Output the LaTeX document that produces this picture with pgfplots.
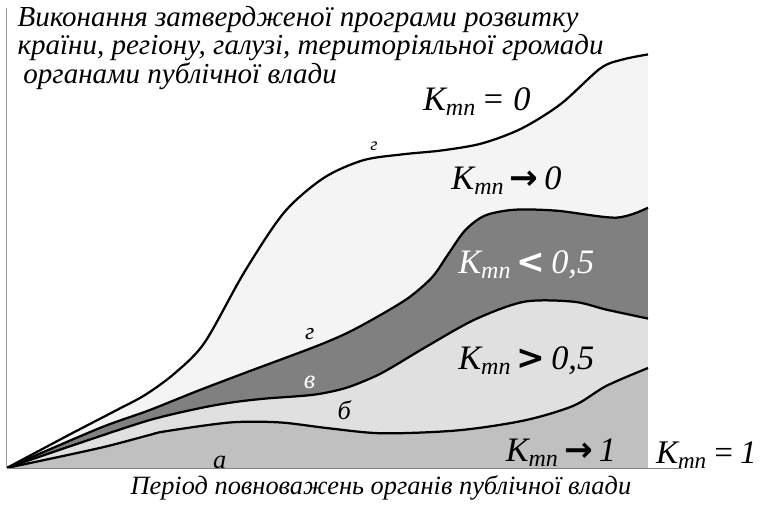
\documentclass[border=0pt]{standalone}
\usepackage{pgfplots}
\pgfplotsset{compat=1.18}
\usepackage{fontspec}
\setmainfont{Liberation Serif}
\newfontfamily\hand{Liberation Serif}
\newfontfamily\sym{DejaVu Sans}

\definecolor{topfill}{HTML}{F4F4F4}
\definecolor{darkfill}{HTML}{808080}
\definecolor{midfill}{HTML}{E0E0E0}
\definecolor{lowfill}{HTML}{C0C0C0}

\newcommand{\K}{К\textsubscript{тп}}
\newcommand{\bs}[1]{{\sym\bfseries\upshape #1}}

% boundary curves (x, y measured from the origin of the chart)
\def\curveG{(0,0)(60,32)(110,58)(140,74)(170,96)(200,127)(240,198)(280,258)(320,293)(360,311)(400,317)
  (440,321)(480,328)(520,343)(560,368)(600,404)(623,413)(648,418)}
\def\curveGl{(0,0)(93,40)(143,58)(193,78)(243,97)(310,122)(343,136)(373,152)(406,172)(430,193)
  (446,216)(463,240)(483,255)(513,261)(556,260)(616,253)(648,263)}
\def\curveV{(0,0)(70,24)(143,48)(193,60)(226,66)(260,70)(310,74)(343,81)(373,93)(393,104)
  (423,122)(473,150)(523,168)(573,168)(606,160)(648,151)}
\def\curveB{(0,0)(93,20)(143,33)(160,37)(226,46)(276,46)(326,40)(380,35)(456,38)(523,48)
  (573,63)(606,83)(648,101)}

\begin{document}
\begin{tikzpicture}
\begin{axis}[scale only axis, width=570.75pt, height=384pt,
  xmin=-7, xmax=754, ymin=-39, ymax=473,
  hide axis, clip=false,
  every node/.style={font=\hand\itshape}]

% regions, top to bottom
\addplot[fill=topfill, draw=none, smooth] coordinates {\curveG} \closedcycle;
\addplot[fill=darkfill, draw=none, smooth] coordinates {\curveGl} \closedcycle;
\addplot[fill=midfill, draw=none, smooth] coordinates {\curveV} \closedcycle;
\addplot[fill=lowfill, draw=none, smooth] coordinates {\curveB} \closedcycle;

% boundary lines
\addplot[black, line width=1.7pt, smooth] coordinates {\curveG};
\addplot[black, line width=1.7pt, smooth] coordinates {\curveGl};
\addplot[black, line width=1.7pt, smooth] coordinates {\curveV};
\addplot[black, line width=1.7pt, smooth] coordinates {\curveB};

% axes
\addplot[gray!80, line width=0.8pt] coordinates {(0,0)(0,465)};
\addplot[gray, line width=0.8pt] coordinates {(0,-1)(682,-1)};
\addplot[draw=none] coordinates {(-7,-39)(754,473)};

% title
\node[anchor=west, font=\hand\itshape\fontsize{22}{22}\selectfont] at (axis cs:6,453) {Виконання затвердженої програми розвитку};
\node[anchor=west, font=\hand\itshape\fontsize{22}{22}\selectfont] at (axis cs:6,425) {країни, регіону, галузі, територіяльної громади};
\node[anchor=west, font=\hand\itshape\fontsize{22}{22}\selectfont] at (axis cs:12,396) {органами публічної влади};

% region labels
\node[font=\hand\itshape\fontsize{26}{26}\selectfont] at (axis cs:475,370) {\K\,= 0};
\node[font=\hand\itshape\fontsize{26}{26}\selectfont] at (axis cs:505,290) {\K\,\bs{→}\,0};
\node[white, font=\hand\itshape\fontsize{26}{26}\selectfont] at (axis cs:525,205) {\K\,\bs{<}\,0,5};
\node[font=\hand\itshape\fontsize{26}{26}\selectfont] at (axis cs:525,108) {\K\,\bs{>}\,0,5};
\node[font=\hand\itshape\fontsize{26}{26}\selectfont] at (axis cs:560,15) {\K\,\bs{→}\,1};
\node[font=\hand\itshape\fontsize{25}{25}\selectfont] at (axis cs:707,13) {\K\,=\,1};

% curve letters
\node[font=\hand\itshape\fontsize{14}{14}\selectfont] at (axis cs:371,325) {г};
\node[font=\hand\itshape\fontsize{18}{18}\selectfont] at (axis cs:306,135) {г};
\node[white, font=\hand\itshape\fontsize{20}{20}\selectfont] at (axis cs:306,86) {в};
\node[font=\hand\itshape\fontsize{20}{20}\selectfont] at (axis cs:341,58) {б};
\node[font=\hand\itshape\fontsize{20}{20}\selectfont] at (axis cs:215,6) {а};

% x label
\node[font=\hand\itshape\fontsize{20}{20}\selectfont] at (axis cs:378,-20) {Період повноважень органів публічної влади};
\end{axis}
\end{tikzpicture}
\end{document}
